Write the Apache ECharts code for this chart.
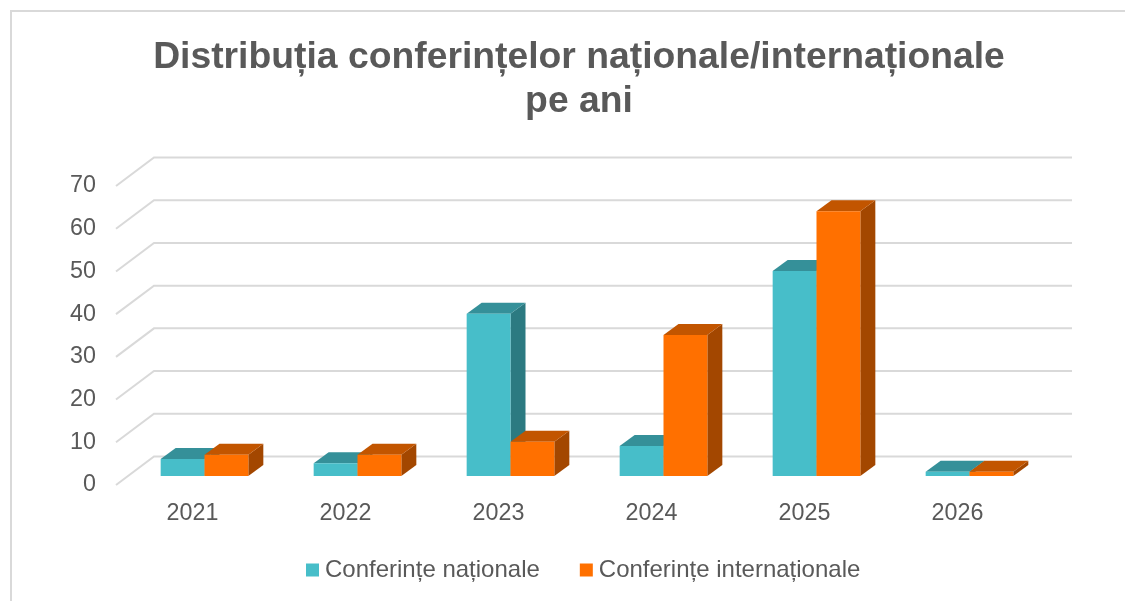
<!DOCTYPE html>
<html>
<head>
<meta charset="utf-8">
<style>html,body{margin:0;padding:0;background:#fff}#c{width:1125px;height:601px}</style>
<script src="https://cdn.jsdelivr.net/npm/echarts@6/dist/echarts.min.js"></script>
</head>
<body>
<div id="c"></div>
<script>
const titleText = 'Distribuția conferințelor naționale/internaționale\npe ani';
const categories = ['2021', '2022', '2023', '2024', '2025', '2026'];
const nationalName = 'Conferințe naționale';
const internationalName = 'Conferințe internaționale';
const nationalValues = [4, 3, 38, 7, 48, 1];
const internationalValues = [5, 5, 8, 33, 62, 1];
const yTicks = [0, 10, 20, 30, 40, 50, 60, 70];

const FONT = '"Liberation Sans", Arial, sans-serif';
const TEXT = '#595959';
const GRIDC = '#d9d9d9';

function bar3d(side, colors) {
  return function (params, api) {
    const cat = api.value(0), val = api.value(1);
    const base = api.coord([cat, 0]), top = api.coord([cat, val]);
    const w = api.size([1, 0])[0] * 0.2865;
    const cx = base[0] + 12;
    const x0 = side < 0 ? cx - w : cx;
    const x1 = x0 + w;
    const yb = base[1] - 9, yt = top[1] - 9;
    const dx = 15, dy = 11;
    const poly = (pts, fill) => ({ type: 'polygon', shape: { points: pts }, style: { fill: fill } });
    return {
      type: 'group',
      children: [
        poly([[x1, yb], [x1 + dx, yb - dy], [x1 + dx, yt - dy], [x1, yt]], colors.side),
        poly([[x0, yt], [x0 + dx, yt - dy], [x1 + dx, yt - dy], [x1, yt]], colors.top),
        poly([[x0, yb], [x1, yb], [x1, yt], [x0, yt]], colors.front)
      ]
    };
  };
}

function gridItem(params, api) {
  const v = api.value(0);
  const left = api.coord([0, v]);
  const span = api.size([1, 0])[0] * categories.length;
  const x0 = left[0] - api.size([1, 0])[0] / 2;
  const y = left[1];
  return {
    type: 'polyline',
    shape: { points: [[x0, y], [x0 + 38, y - 28.5], [x0 + 38 + span, y - 28.5]] },
    style: { fill: null, stroke: GRIDC, lineWidth: 2 }
  };
}

const chart = echarts.init(document.getElementById('c'), null, { renderer: 'canvas' });
chart.setOption({
  animation: false,
  backgroundColor: '#fff',
  title: {
    text: titleText,
    left: 574, top: 31, textAlign: 'center',
    textStyle: { fontFamily: FONT, fontSize: 37.3, fontWeight: 'bold', color: TEXT, lineHeight: 44 }
  },
  legend: {
    left: 301, top: 553,
    itemWidth: 13, itemHeight: 13, itemGap: 40,
    icon: 'rect',
    data: [nationalName, internationalName],
    textStyle: { fontFamily: FONT, fontSize: 24, color: TEXT, padding: [0, 0, 0, 1] }
  },
  grid: { left: 116, top: 186, width: 918, height: 299 },
  xAxis: {
    type: 'category', data: categories,
    axisLine: { show: false }, axisTick: { show: false },
    axisLabel: { fontFamily: FONT, fontSize: 23.3, color: TEXT, margin: 17 }
  },
  yAxis: {
    type: 'value', min: 0, max: 70, interval: 10,
    axisLine: { show: false }, axisTick: { show: false }, splitLine: { show: false },
    axisLabel: { fontFamily: FONT, fontSize: 23.3, color: TEXT, margin: 20, padding: [2, 0, 0, 0] }
  },
  graphic: [{
    type: 'rect', silent: true, z: -1,
    shape: { x: 11, y: 11, width: 1200, height: 700 },
    style: { fill: null, stroke: GRIDC, lineWidth: 2 }
  }],
  series: [
    {
      type: 'custom', name: 'grid', silent: true, clip: false, z: 1,
      encode: { x: -1, y: 0 },
      data: yTicks.map(v => [v]),
      renderItem: gridItem
    },
    {
      type: 'custom', name: nationalName, clip: false, z: 2,
      itemStyle: { color: '#47BEC9' },
      encode: { x: 0, y: 1 },
      data: categories.map((c, i) => [i, nationalValues[i]]),
      renderItem: bar3d(-1, { front: '#47BEC9', top: '#359099', side: '#2C7A81' })
    },
    {
      type: 'custom', name: internationalName, clip: false, z: 3,
      itemStyle: { color: '#FF7000' },
      encode: { x: 0, y: 1 },
      data: categories.map((c, i) => [i, internationalValues[i]]),
      renderItem: bar3d(1, { front: '#FF7000', top: '#C25500', side: '#A34700' })
    }
  ]
});
</script>
</body>
</html>
